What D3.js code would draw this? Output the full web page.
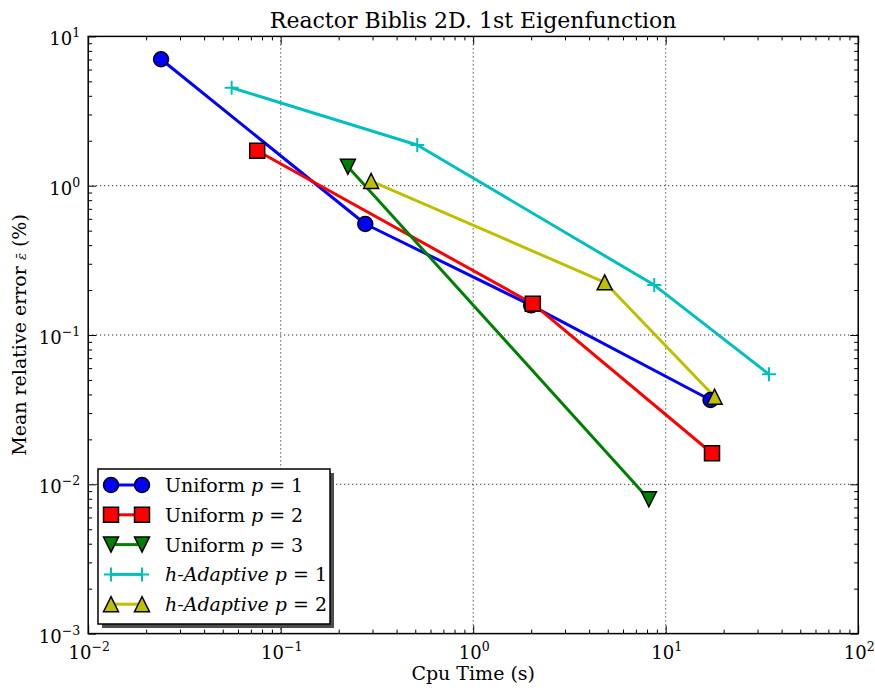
<!DOCTYPE html>
<html>
<head>
<meta charset="utf-8">
<script src="https://cdnjs.cloudflare.com/ajax/libs/d3/7.8.5/d3.min.js"></script>
<style>
  body { margin: 0; background: #fff; }
  text { font-family: "DejaVu Serif", serif; fill: #000; }
</style>
</head>
<body>
<script>
// data (log-log)
const seriesNames = ["Uniform", "Uniform", "Uniform", "h-Adaptive", "h-Adaptive"];
const seriesP = [1, 2, 3, 1, 2];
const uniformP1Time = [0.0239, 0.275, 2.0, 17.1];
const uniformP1Err = [7.03, 0.554, 0.158, 0.0367];
const uniformP2Time = [0.0755, 2.04, 17.4];
const uniformP2Err = [1.716, 0.162, 0.01614];
const uniformP3Time = [0.2234, 8.18];
const uniformP3Err = [1.34, 0.00794];
const adaptP1Time = [0.0556, 0.512, 8.72, 34.4];
const adaptP1Err = [4.53, 1.874, 0.216, 0.0545];
const adaptP2Time = [0.295, 4.82, 17.95];
const adaptP2Err = [1.075, 0.2254, 0.0386];
const xTickExp = [-2, -1, 0, 1, 2];
const yTickExp = [-3, -2, -1, 0, 1];

const w = 875;
const h = 691;
const margin = { top: 36.4, bottom: 57.4, left: 88.2, right: 16.8 };

const width = w - (margin.left + margin.right);
const height = h - (margin.top + margin.bottom);

const series = [
  { x: uniformP1Time, y: uniformP1Err, color: "#0000ff", marker: "circle" },
  { x: uniformP2Time, y: uniformP2Err, color: "#ff0000", marker: "square" },
  { x: uniformP3Time, y: uniformP3Err, color: "#008000", marker: "tridown" },
  { x: adaptP1Time, y: adaptP1Err, color: "#00bfbf", marker: "plus" },
  { x: adaptP2Time, y: adaptP2Err, color: "#bfbf00", marker: "triup" }
];

const x = d3.scaleLog().domain([1e-2, 1e2]).range([0, width]);
const y = d3.scaleLog().domain([1e-3, 1e1]).range([height, 0]);

function markerPath(type) {
  if (type === "square") return "M-7.5,-7.5H7.5V7.5H-7.5Z";
  if (type === "triup") return "M0,-7.5L7.5,7.5L-7.5,7.5Z";
  if (type === "tridown") return "M0,7.5L7.5,-7.5L-7.5,-7.5Z";
  if (type === "plus") return "M-7,0H7M0,-7V7";
  return null;
}

function drawMarker(sel, s) {
  if (s.marker === "circle") {
    sel.append("circle").attr("r", 7.5)
       .attr("fill", s.color).attr("stroke", "#000").attr("stroke-width", 1.5);
  } else if (s.marker === "plus") {
    sel.append("path").attr("d", markerPath("plus"))
       .attr("fill", "none").attr("stroke", s.color).attr("stroke-width", 2);
  } else {
    sel.append("path").attr("d", markerPath(s.marker))
       .attr("fill", s.color).attr("stroke", "#000").attr("stroke-width", 1.5)
       .attr("stroke-linejoin", "miter");
  }
}

const svg = d3.select("body")
  .append("svg")
  .attr("width", w)
  .attr("height", h);

const chart = svg.append("g")
  .attr("transform", "translate(" + margin.left + "," + margin.top + ")");

// minor + major tick values
const minor = [];
for (let e = -3; e < 2; e++) for (let k = 2; k < 10; k++) minor.push(k * Math.pow(10, e));
const xMinor = minor.filter(v => v > 1e-2 && v < 1e2);
const yMinor = minor.filter(v => v > 1e-3 && v < 1e1);
const xMajor = xTickExp.map(e => Math.pow(10, e));
const yMajor = yTickExp.map(e => Math.pow(10, e));

// grid
chart.append("g").selectAll("line").data(xMajor.slice(1, -1)).enter().append("line")
  .attr("x1", d => x(d)).attr("x2", d => x(d)).attr("y1", 0).attr("y2", height)
  .attr("stroke", "#000").attr("stroke-width", 1).attr("stroke-dasharray", "1,3");
chart.append("g").selectAll("line").data(yMajor.slice(1, -1)).enter().append("line")
  .attr("y1", d => y(d)).attr("y2", d => y(d)).attr("x1", 0).attr("x2", width)
  .attr("stroke", "#000").attr("stroke-width", 1).attr("stroke-dasharray", "1,3");

// ticks on all four sides, pointing inward
function ticks(axisFn, vals, size, transform) {
  chart.append("g")
    .attr("transform", transform)
    .call(axisFn.tickValues(vals).tickSize(size).tickFormat(""))
    .call(g => g.select(".domain").remove())
    .call(g => g.selectAll("line").attr("stroke", "#000").attr("stroke-width", 1));
}
ticks(d3.axisBottom(x), xMajor, -8, "translate(0," + height + ")");
ticks(d3.axisBottom(x), xMinor, -4, "translate(0," + height + ")");
ticks(d3.axisTop(x), xMajor, -8, "translate(0,0)");
ticks(d3.axisTop(x), xMinor, -4, "translate(0,0)");
ticks(d3.axisLeft(y), yMajor, -8, "translate(0,0)");
ticks(d3.axisLeft(y), yMinor, -4, "translate(0,0)");
ticks(d3.axisRight(y), yMajor, -8, "translate(" + width + ",0)");
ticks(d3.axisRight(y), yMinor, -4, "translate(" + width + ",0)");

// lines + markers
const line = d3.line().x(d => x(d[0])).y(d => y(d[1]));
series.forEach(s => {
  const pts = s.x.map((v, i) => [v, s.y[i]]);
  chart.append("path").datum(pts)
    .attr("d", line).attr("fill", "none")
    .attr("stroke", s.color).attr("stroke-width", 3).attr("stroke-linejoin", "round");
});
series.forEach(s => {
  const pts = s.x.map((v, i) => [v, s.y[i]]);
  chart.append("g").selectAll("g").data(pts).enter().append("g")
    .attr("transform", d => "translate(" + x(d[0]) + "," + y(d[1]) + ")")
    .each(function() { drawMarker(d3.select(this), s); });
});

// frame
chart.append("rect").attr("width", width).attr("height", height)
  .attr("fill", "none").attr("stroke", "#000").attr("stroke-width", 1.5);

// tick labels
function pow10(sel, e) {
  sel.append("tspan").text("10");
  sel.append("tspan").attr("dy", -8).attr("font-size", 12.5)
    .text(e < 0 ? "\u2212" + (-e) : String(e));
}
chart.append("g").selectAll("text").data(xTickExp).enter().append("text")
  .attr("x", d => x(Math.pow(10, d)) + 1).attr("y", height + 25)
  .attr("text-anchor", "middle").attr("font-size", 18)
  .each(function(d) { pow10(d3.select(this), d); });
chart.append("g").selectAll("text").data(yTickExp).enter().append("text")
  .attr("x", -8).attr("y", d => y(Math.pow(10, d)) + 9)
  .attr("text-anchor", "end").attr("font-size", 18)
  .each(function(d) { pow10(d3.select(this), d); });

// title + axis labels
svg.append("text").attr("x", margin.left + width / 2).attr("y", 28)
  .attr("text-anchor", "middle").attr("font-size", 22)
  .text("Reactor Biblis 2D. 1st Eigenfunction");
svg.append("text").attr("x", margin.left + width / 2).attr("y", 680)
  .attr("text-anchor", "middle").attr("font-size", 19)
  .text("Cpu Time (s)");
const yl = svg.append("text")
  .attr("transform", "translate(26," + (margin.top + height / 2) + ") rotate(-90)")
  .attr("text-anchor", "middle").attr("font-size", 19);
yl.append("tspan").text("Mean relative error ");
yl.append("tspan").attr("font-style", "italic").attr("font-size", 13).text("\u03b5\u0304");
yl.append("tspan").text(" (%)");

// legend
const lg = svg.append("g").attr("transform", "translate(98,469)");
lg.append("rect").attr("x", 4).attr("y", 4).attr("width", 232).attr("height", 155)
  .attr("fill", "#4d4d4d");
lg.append("rect").attr("width", 232).attr("height", 155)
  .attr("fill", "#fff").attr("stroke", "#000").attr("stroke-width", 1.5);
series.forEach((s, i) => {
  const row = lg.append("g").attr("transform", "translate(0," + (16 + i * 29.8) + ")");
  row.append("line").attr("x1", 13).attr("x2", 44)
    .attr("stroke", s.color).attr("stroke-width", 3);
  [13, 44].forEach(cx => {
    const m = row.append("g").attr("transform", "translate(" + cx + ",0)");
    drawMarker(m, s);
  });
  const t = row.append("text").attr("x", 67).attr("y", 7).attr("font-size", 19);
  if (seriesNames[i] === "Uniform") {
    t.append("tspan").text("Uniform ");
  } else {
    t.append("tspan").attr("font-style", "italic").text("h-Adaptive ");
  }
  t.append("tspan").attr("font-style", "italic").text("p");
  t.append("tspan").text(" = " + seriesP[i]);
});
</script>
</body>
</html>
